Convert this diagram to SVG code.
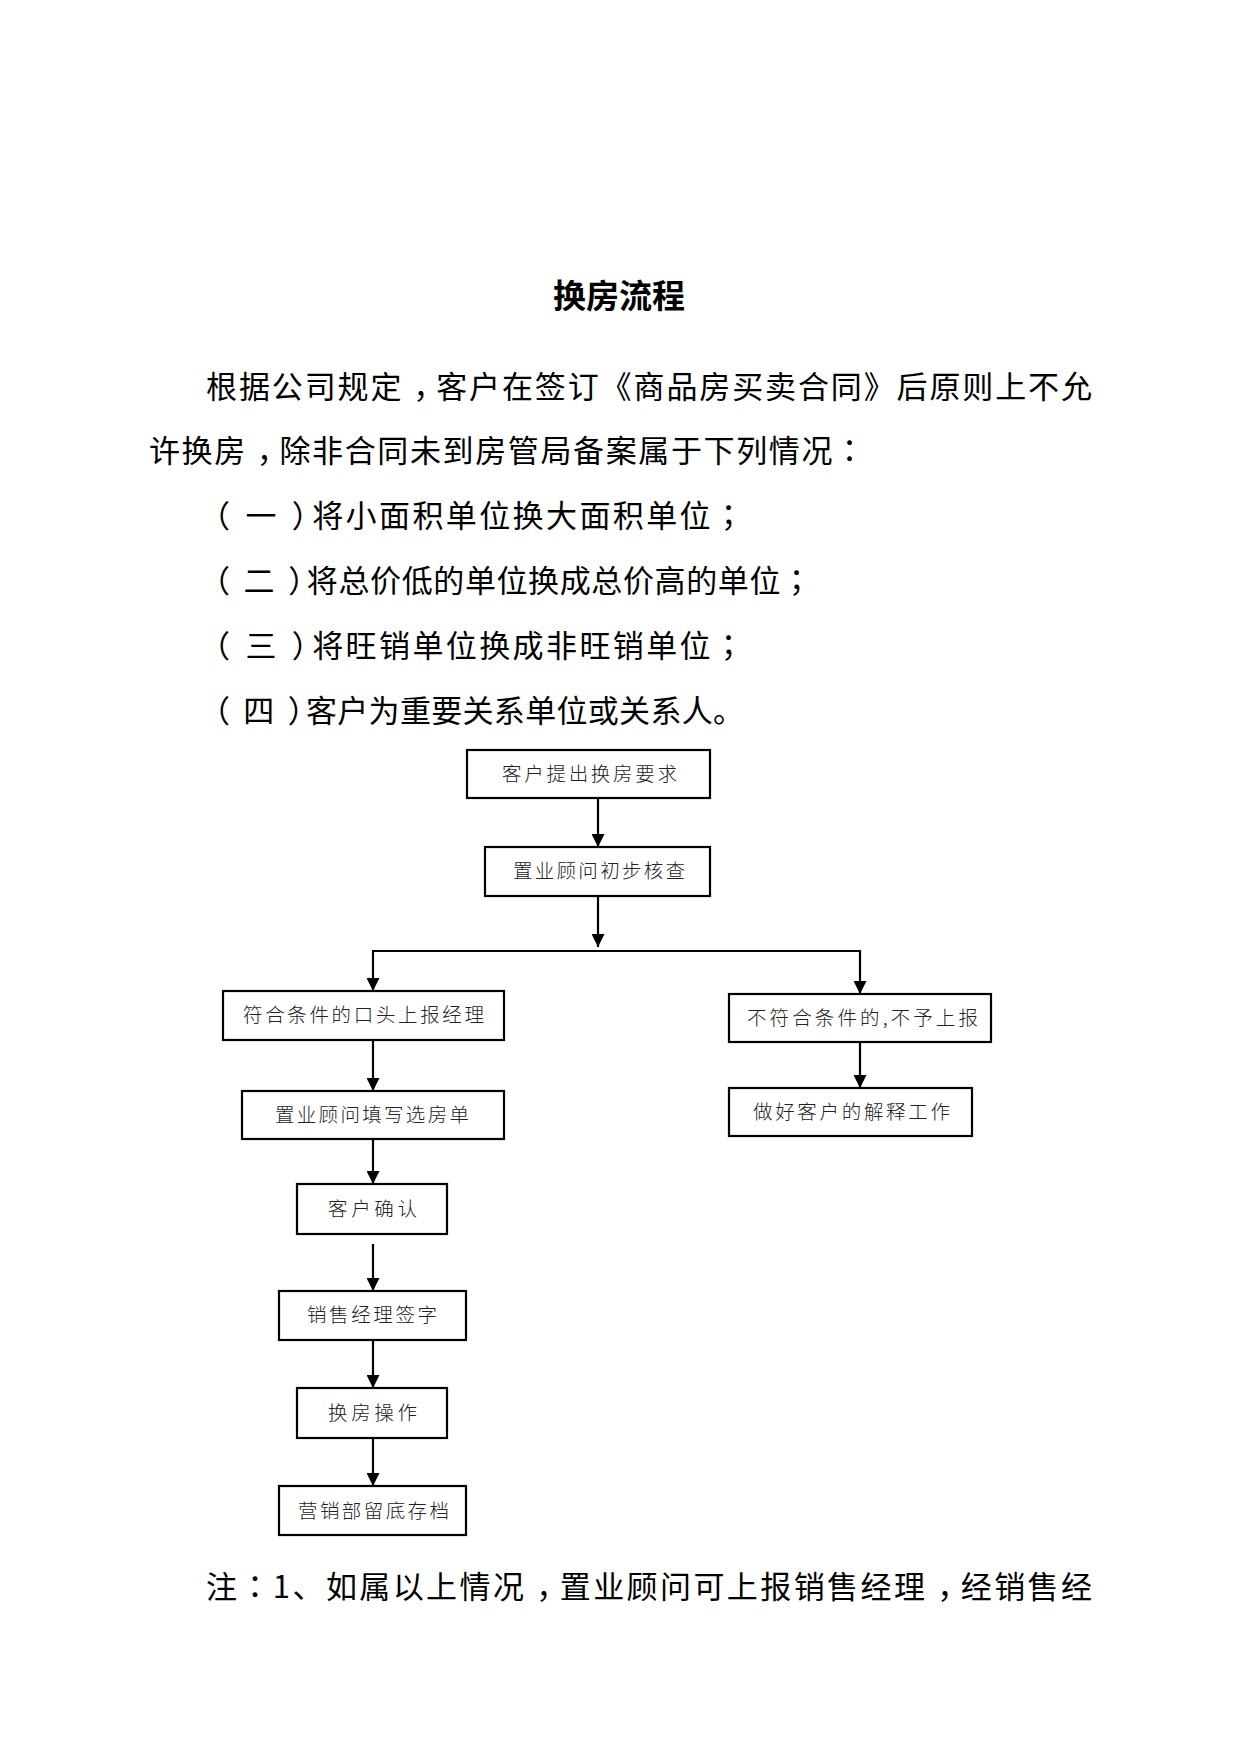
<svg xmlns="http://www.w3.org/2000/svg" width="1241" height="1754" viewBox="0 0 1241 1754">
<defs>
<style>
.body{font-family:"Noto Sans CJK SC","Noto Sans",sans-serif;font-size:31px;fill:#000;}
.p{font-family:"Noto Sans CJK TC","Noto Sans CJK SC",sans-serif;}
.title{font-family:"Noto Sans CJK SC","Noto Sans",sans-serif;font-size:33px;font-weight:bold;fill:#000;}
.box rect{fill:#fff;stroke:#000;stroke-width:2.2;}
.box text{font-family:"Noto Sans CJK SC",sans-serif;font-size:19.5px;font-weight:300;fill:#222;}
.conn line,.conn path{stroke:#000;stroke-width:2.2;fill:none;}
</style>
<marker id="arr" markerUnits="userSpaceOnUse" markerWidth="13" markerHeight="13" refX="13" refY="6.5" orient="auto">
<path d="M0,0 L13,6.5 L0,13 z" fill="#000"/>
</marker>
</defs>
<rect width="1241" height="1754" fill="#fff"/>
<text class="title" x="619" y="308" text-anchor="middle">换房流程</text>
<text class="body" x="206" y="398" dx="0 0 0 0 0 0 10 -10" textLength="886" lengthAdjust="spacing">根据公司规定，客户在签订《商品房买卖合同》后原则上不允</text>
<text class="body" x="149" y="462" dx="0 0 0 10 -10" textLength="716" lengthAdjust="spacing">许换房，除非合同未到房管局备案属于下列情况<tspan class="p">：</tspan></text>
<text class="body" x="212" y="527" dx="-13 13 13 -13" textLength="545" lengthAdjust="spacing">（一）将小面积单位换大面积单位<tspan class="p">；</tspan></text>
<text class="body" x="212" y="592" dx="-13 13 13 -13" textLength="613" lengthAdjust="spacing">（二）将总价低的单位换成总价高的单位<tspan class="p">；</tspan></text>
<text class="body" x="212" y="657" dx="-13 13 13 -13" textLength="545" lengthAdjust="spacing">（三）将旺销单位换成非旺销单位<tspan class="p">；</tspan></text>
<text class="body" x="212" y="722" dx="-13 13 13 -13" textLength="545" lengthAdjust="spacing">（四）客户为重要关系单位或关系人。</text>
<text class="body" x="206" y="1598" dx="0 0 0 0 0 0 0 0 0 0 10 -10 0 0 0 0 0 0 0 0 0 0 10 -10" textLength="886" lengthAdjust="spacing">注<tspan class="p">：</tspan>1、如属以上情况，置业顾问可上报销售经理，经销售经</text>

<g class="conn">
<line x1="598" y1="798" x2="598" y2="847" marker-end="url(#arr)"/>
<line x1="598" y1="896" x2="598" y2="947" marker-end="url(#arr)"/>
<path d="M373,951 L860,951"/>
<line x1="373" y1="950" x2="373" y2="991" marker-end="url(#arr)"/>
<line x1="860" y1="950" x2="860" y2="994" marker-end="url(#arr)"/>
<line x1="373" y1="1040" x2="373" y2="1091" marker-end="url(#arr)"/>
<line x1="860" y1="1042" x2="860" y2="1088" marker-end="url(#arr)"/>
<line x1="373" y1="1139" x2="373" y2="1184" marker-end="url(#arr)"/>
<line x1="373" y1="1244" x2="373" y2="1291" marker-end="url(#arr)"/>
<line x1="373" y1="1340" x2="373" y2="1388" marker-end="url(#arr)"/>
<line x1="373" y1="1438" x2="373" y2="1486" marker-end="url(#arr)"/>
</g>

<g id="n1" class="box"><rect x="467" y="750" width="243" height="48"/><text x="502" y="781" textLength="175" lengthAdjust="spacing">客户提出换房要求</text></g>
<g id="n2" class="box"><rect x="485" y="847" width="225" height="49"/><text x="513" y="878" textLength="172" lengthAdjust="spacing">置业顾问初步核查</text></g>
<g id="n3" class="box"><rect x="223" y="991" width="281" height="49"/><text x="243" y="1022" textLength="241" lengthAdjust="spacing">符合条件的口头上报经理</text></g>
<g id="n4" class="box"><rect x="242" y="1091" width="262" height="48"/><text x="275" y="1122" textLength="194" lengthAdjust="spacing">置业顾问填写选房单</text></g>
<g id="n5" class="box"><rect x="729" y="994" width="262" height="48"/><text x="747" y="1025" textLength="231" lengthAdjust="spacing">不符合条件的,不予上报</text></g>
<g id="n6" class="box"><rect x="729" y="1088" width="243" height="48"/><text x="753" y="1119" textLength="197" lengthAdjust="spacing">做好客户的解释工作</text></g>
<g id="n7" class="box"><rect x="297" y="1184" width="150" height="50"/><text x="328" y="1216" textLength="89" lengthAdjust="spacing">客户确认</text></g>
<g id="n8" class="box"><rect x="279" y="1291" width="187" height="49"/><text x="307" y="1322" textLength="130" lengthAdjust="spacing">销售经理签字</text></g>
<g id="n9" class="box"><rect x="297" y="1388" width="150" height="50"/><text x="328" y="1420" textLength="89" lengthAdjust="spacing">换房操作</text></g>
<g id="n10" class="box"><rect x="279" y="1486" width="187" height="49"/><text x="298" y="1518" textLength="151" lengthAdjust="spacing">营销部留底存档</text></g>
</svg>
